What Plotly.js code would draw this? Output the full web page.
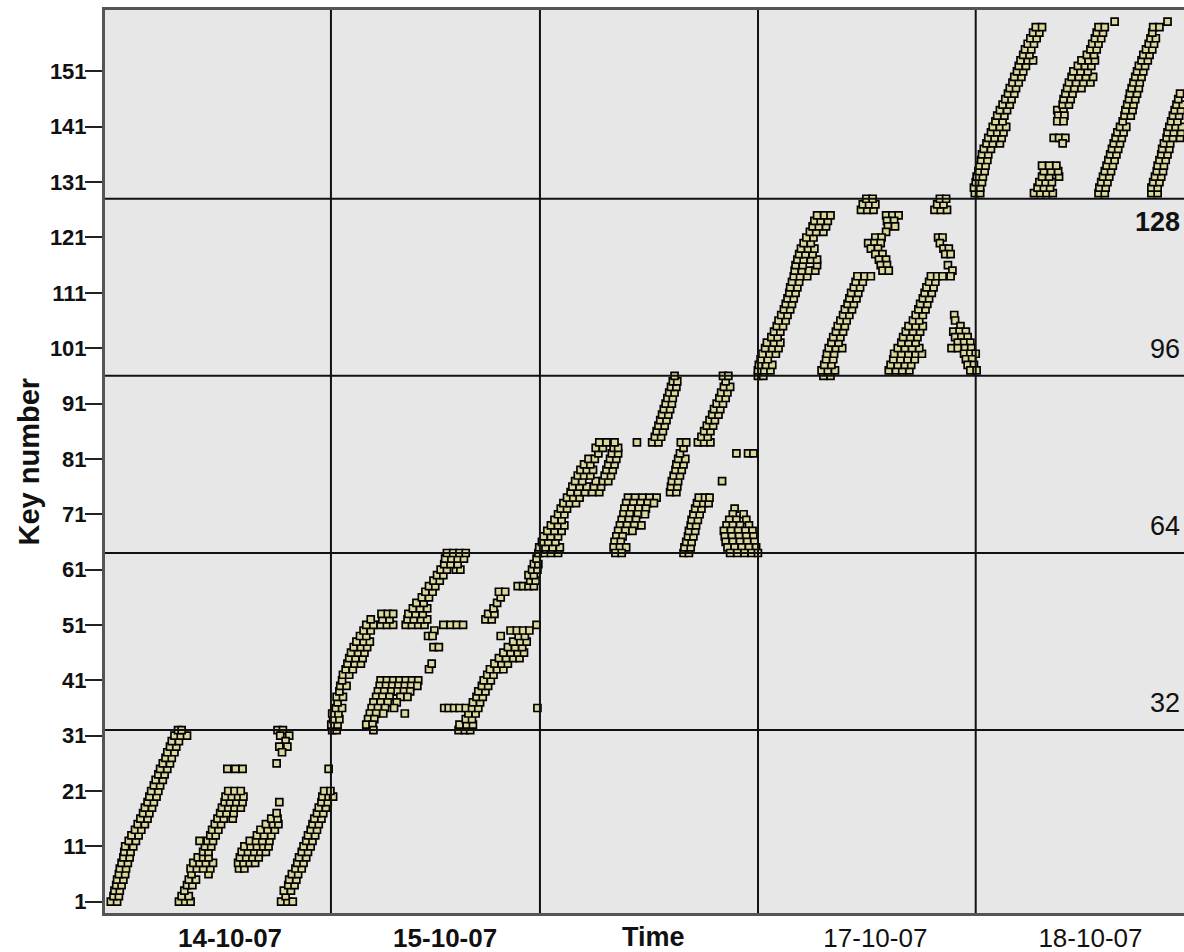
<!DOCTYPE html>
<html>
<head>
<meta charset="utf-8">
<script src="https://cdn.plot.ly/plotly-3.0.1.min.js"></script>
<style>
html,body{margin:0;padding:0;background:#ffffff;overflow:hidden}
#chart{width:1184px;height:952px}
</style>
</head>
<body>
<div id="chart"></div>
<script>
// ---- DATA (time in hours since 14-10-07 00:00, key number) ----
const day14Points = [
[-1.3,1],[-0.6,1],[-1.0,2],[-0.4,2],[-0.9,3],[-0.3,3],[-0.7,4],[-0.1,4],[-0.6,5],[0.1,5],[-0.4,6],[0.3,6],[-0.3,7],[0.4,7],[-0.1,8],[0.6,8],[0.1,9],[0.8,9],[0.2,10],[0.9,10],[0.3,11],[1.2,11],[0.7,12],[1.5,12],[1.0,13],[1.8,13],[1.4,14],[2.1,14],[1.7,15],[2.5,15],[2.0,16],[2.8,16],[2.3,17],[3.0,17],[2.5,18],[3.3,18],[2.8,19],[3.5,19],[3.0,20],[3.8,20],[3.2,21],[4.0,21],[3.5,22],[4.2,22],[3.7,23],[4.5,23],[4.0,24],[4.7,24],[4.2,25],[5.0,25],[4.5,26],[5.3,26],[4.8,27],[5.5,27],[5.0,28],[5.8,28],[5.3,29],[6.0,29],[5.5,30],[6.3,30],[5.8,31],[6.5,31],[7.2,31],[6.2,32],[6.6,32],
[6.3,1],[7.0,1],[7.6,1],[6.6,2],[7.4,2],[6.9,3],[7.2,4],[7.8,4],[7.4,5],[8.2,5],[7.7,6],[9.6,6],[7.6,7],[8.3,7],[9.0,7],[9.8,7],[7.9,8],[8.6,8],[9.3,8],[10.1,8],[8.4,9],[9.0,9],[9.6,9],[9.0,10],[9.6,10],[9.2,11],[9.9,11],[8.6,12],[9.5,12],[10.1,12],[9.8,13],[10.4,13],[10.0,14],[10.7,14],[10.3,15],[11.0,15],[10.6,16],[11.3,16],[12.3,16],[10.9,17],[11.6,17],[12.4,17],[11.1,18],[11.8,18],[12.5,18],[13.2,18],[11.4,19],[12.0,19],[12.7,19],[13.4,19],[11.5,20],[12.2,20],[12.9,20],[13.5,20],[11.8,21],[12.5,21],[13.2,21],[11.7,25],[12.6,25],[13.4,25],
[13.0,7],[13.6,7],[12.9,8],[13.5,8],[14.2,8],[14.8,8],[13.1,9],[13.8,9],[14.5,9],[15.2,9],[13.3,10],[14.0,10],[14.7,10],[15.4,10],[16.0,10],[13.6,11],[14.3,11],[15.0,11],[15.7,11],[16.3,11],[14.2,12],[14.9,12],[15.6,12],[16.4,12],[15.0,13],[15.8,13],[16.6,13],[15.4,14],[16.2,14],[17.0,14],[16.0,15],[16.8,15],[17.4,15],[16.6,16],[17.3,16],[17.2,17],[17.5,19],
[17.3,32],[17.9,32],[18.6,31],[17.6,31],[18.2,30],[17.5,29],[18.4,29],[17.8,28],[17.2,26],
[17.7,1],[18.4,1],[19.0,1],[18.2,2],[18.0,3],[18.8,3],[18.5,4],[19.2,4],[18.6,5],[19.4,5],[18.9,6],[19.6,6],[19.3,7],[20.0,7],[19.5,8],[20.2,8],[19.7,9],[20.5,9],[20.0,10],[20.7,10],[20.2,11],[21.0,11],[20.5,12],[21.2,12],[20.7,13],[21.5,13],[21.0,14],[21.7,14],[21.2,15],[21.9,15],[21.4,16],[22.2,16],[21.7,17],[22.4,17],[21.9,18],[22.7,18],[22.2,19],[22.9,19],[22.3,20],[23.0,20],[23.5,20],[22.5,21],[23.2,21],[23.0,25]
];
const day15Points = [
[23.4,32],[23.9,32],[23.3,33],[24.0,33],[23.5,34],[24.2,34],[23.4,35],[24.1,35],[23.8,36],[24.5,36],[24.0,37],[23.9,38],[24.6,38],[24.2,39],[24.3,40],[25.0,40],[24.5,41],[24.6,42],[25.3,42],[24.9,43],[25.7,43],[25.1,44],[25.9,44],[26.6,44],[25.3,45],[26.0,45],[26.8,45],[25.5,46],[26.3,46],[27.0,46],[25.8,47],[26.6,47],[27.3,47],[26.1,48],[26.9,48],[27.6,48],[26.5,49],[27.2,49],[26.9,50],[27.7,50],[27.2,51],[28.0,51],[27.7,52],
[28.8,51],[29.5,51],[30.2,51],[29.0,52],[29.8,52],[28.9,53],[29.6,53],[30.2,53],
[31.6,51],[32.3,51],[33.0,51],[33.7,51],[31.8,52],[32.5,52],[33.3,52],[34.0,52],[31.9,53],[32.7,53],[33.5,53],[32.4,54],[33.2,54],[34.0,54],[32.8,55],[33.6,55],[33.4,56],[34.2,56],[33.8,57],[34.6,57],[34.2,58],[34.9,58],[34.7,59],[35.4,59],[35.1,60],[35.8,60],[35.5,61],[36.2,61],[37.2,61],[37.7,61],[35.9,62],[36.6,62],[37.4,62],[36.0,63],[36.7,63],[37.4,63],[38.1,63],[36.2,64],[36.9,64],[37.6,64],[38.3,64],
[28.8,41],[29.5,41],[30.2,41],[30.9,41],[31.6,41],[32.3,41],[33.0,41],[28.7,40],[29.4,40],[30.1,40],[30.8,40],[31.5,40],[32.2,40],[32.9,40],[28.5,39],[29.2,39],[30.0,39],[30.7,39],[31.4,39],[32.1,39],[28.3,38],[29.0,38],[29.8,38],[31.0,38],[31.8,38],[28.0,37],[28.8,37],[29.6,37],[30.6,37],[27.8,36],[28.5,36],[29.3,36],[30.3,36],[27.6,35],[28.3,35],[29.1,35],[31.5,35],[27.4,34],[28.1,34],[27.2,33],[27.9,33],[28.0,32],[34.2,43],[34.5,44],
[34.1,49],[34.8,50],[34.6,49],[34.7,47],[35.3,47],[35.8,51],[36.6,51],[37.3,51],[38.0,51],
[40.5,52],[41.2,52],[40.8,53],[41.5,53],[41.4,54],[41.8,55],[42.2,56],[42.0,57],[42.7,57],
[37.5,32],[38.2,32],[38.8,32],[37.6,33],[38.4,33],[39.1,33],[38.3,34],[39.0,34],[38.6,35],[39.4,35],[35.9,36],[36.4,36],[37.0,36],[37.6,36],[38.3,36],[39.0,36],[39.7,36],[39.1,37],[39.9,37],[39.5,38],[40.2,38],[39.7,39],[40.5,39],[40.1,40],[40.8,40],[40.3,41],[41.1,41],[40.7,42],[41.4,42],[41.0,43],[41.8,43],[42.5,43],[41.5,44],[42.3,44],[43.0,44],[42.0,45],[42.8,45],[43.6,45],[44.3,45],[42.5,46],[43.3,46],[44.1,46],[44.8,46],[43.0,47],[43.8,47],[44.6,47],[43.6,48],[44.4,48],[45.1,48],[42.2,49],[44.2,49],[44.9,49],[43.3,50],[44.0,50],[44.7,50],[45.4,50],
[46.2,51],[46.3,36],
[44.1,58],[44.7,58],[45.3,58],[45.9,58],[45.5,59],[46.1,59],[45.3,60],[45.9,60],[45.7,61],[46.3,61],[45.9,62],[46.4,62],[46.2,63],[46.5,64]
];
const day16Points = [
[46.4,64],[47.1,64],[47.8,64],[48.6,64],[46.5,65],[47.2,65],[48.0,65],[48.8,65],[46.8,66],[47.5,66],[48.3,66],[47.0,67],[47.8,67],[48.6,67],[47.4,68],[48.2,68],[49.0,68],[47.8,69],[48.6,69],[49.3,69],[48.2,70],[49.0,70],[48.6,71],[49.3,71],[48.9,72],[49.6,72],[49.2,73],[49.9,73],[50.6,73],[49.6,74],[50.3,74],[51.0,74],
[50.0,75],[50.8,75],[51.6,75],[52.4,75],[53.2,75],[50.2,76],[51.0,76],[51.8,76],[52.6,76],[53.4,76],[50.5,77],[51.3,77],[52.8,77],[53.6,77],[54.2,77],[50.8,78],[51.5,78],[52.2,78],[53.8,78],[54.5,78],[51.1,79],[51.8,79],[52.5,79],[54.0,79],[54.7,79],[51.5,80],[52.2,80],[54.2,80],[54.9,80],[52.0,81],[52.7,81],[54.4,81],[55.1,81],[53.1,82],[54.6,82],[55.3,82],[52.8,83],[53.6,83],[54.8,83],[55.3,83],[53.2,84],[54.0,84],[54.9,84],
[57.4,84],[59.1,84],[59.8,84],[59.4,85],[60.1,85],[59.6,86],[60.3,86],[59.8,87],[60.5,87],[60.0,88],[60.7,88],[60.2,89],[60.9,89],[60.4,90],[61.1,90],[60.6,91],[61.3,91],[60.8,92],[61.4,92],[61.0,93],[61.6,93],[61.2,94],[61.8,94],[61.4,95],[61.9,95],[61.6,96],
[64.2,84],[64.9,84],[65.6,84],[64.6,85],[65.3,85],[64.9,86],[65.6,86],[65.2,87],[65.9,87],[65.5,88],[66.1,88],[65.8,89],[66.5,89],[66.0,90],[66.7,90],[66.3,91],[67.0,91],[66.6,92],[67.3,92],[66.8,93],[67.5,93],[67.1,94],[67.8,94],[67.3,95],[67.0,96],[67.6,96],
[56.4,74],[57.2,74],[58.0,74],[58.8,74],[59.6,74],[56.2,73],[57.0,73],[57.8,73],[58.6,73],[59.3,73],[56.0,72],[56.8,72],[57.6,72],[58.4,72],[55.9,71],[56.6,71],[57.5,71],[58.3,71],[55.7,70],[56.5,70],[57.3,70],[55.5,69],[56.3,69],[57.1,69],[57.9,69],[55.3,68],[56.1,68],[56.9,68],[55.1,67],[55.8,67],[54.9,66],[55.6,66],[54.8,65],[55.5,65],[56.2,65],[55.0,64],[55.7,64],
[61.1,75],[61.8,75],[61.2,76],[61.9,76],[61.3,77],[62.0,77],[61.5,78],[62.2,78],[61.7,79],[62.4,79],[61.8,80],[62.6,80],[62.0,81],[62.8,81],[62.2,82],[62.6,83],[62.3,84],[62.9,84],
[62.6,64],[63.2,64],[62.7,65],[63.4,65],[62.9,66],[63.5,66],[63.1,67],[63.7,67],[63.2,68],[63.9,68],[63.4,69],[64.0,69],[63.5,70],[64.2,70],[63.7,71],[64.4,71],[63.9,72],[64.6,72],[64.1,73],[64.8,73],[65.4,73],[64.3,74],[65.0,74],[65.5,74],
[66.9,77],[68.5,82],[69.8,82],[70.4,82],
[68.3,72],[68.1,71],[69.3,71],[67.7,70],[68.5,70],[69.6,70],[67.4,69],[68.1,69],[68.9,69],[69.9,69],[67.1,68],[67.9,68],[68.7,68],[69.5,68],[70.3,68],[67.2,67],[68.0,67],[68.8,67],[69.6,67],[70.4,67],[67.3,66],[68.1,66],[68.9,66],[69.7,66],[70.5,66],[67.5,65],[68.3,65],[69.1,65],[69.9,65],[70.7,65],[67.8,64],[68.6,64],[69.4,64],[70.2,64],[70.9,64]
];
const day17Points = [
[70.9,96],[71.5,96],[70.9,97],[71.6,97],[72.3,97],[71.0,98],[71.8,98],[72.5,98],[71.2,99],[72.0,99],[71.4,100],[72.2,100],[72.9,100],[71.7,101],[72.5,101],[73.2,101],[71.9,102],[72.7,102],[73.4,102],[72.4,103],[73.1,103],[72.7,104],[73.4,104],[73.0,105],[73.7,105],[73.2,106],[74.0,106],[73.5,107],[74.2,107],[73.8,108],[74.5,108],[74.0,109],[74.7,109],[74.2,110],[74.9,110],[74.4,111],[75.1,111],[74.5,112],[75.3,112],[74.7,113],[75.5,113],[74.9,114],[75.6,114],[76.4,114],[75.0,115],[75.8,115],[76.6,115],[77.3,115],[75.1,116],[75.9,116],[77.5,116],[75.3,117],[76.0,117],[76.8,117],[77.5,117],[75.5,118],[76.2,118],[77.0,118],[75.7,119],[76.5,119],[77.2,119],[76.0,120],[76.8,120],[76.3,121],[77.1,121],[76.7,122],[77.4,122],[78.2,122],[77.0,123],[77.7,123],[78.5,123],[77.2,124],[77.9,124],[78.7,124],[77.5,125],[78.3,125],[79.0,125],
[82.4,126],[83.1,126],[83.8,126],[82.6,127],[83.3,127],[84.0,127],[83.0,128],[83.7,128],
[85.2,125],[85.9,125],[86.6,125],[85.3,124],[86.1,124],[85.4,123],[86.2,123],[85.2,122],[84.0,121],[84.7,121],[83.2,120],[83.9,120],[84.6,120],[83.5,119],[84.3,119],[84.0,118],[84.8,118],[84.4,117],[85.2,117],[84.6,116],[85.3,116],[84.8,115],[85.5,115],
[78.2,96],[79.0,96],[78.0,97],[78.7,97],[79.5,97],[78.3,98],[79.1,98],[78.5,99],[79.3,99],[78.6,100],[79.4,100],[78.8,101],[79.6,101],[80.3,101],[79.1,102],[79.9,102],[79.3,103],[80.1,103],[79.6,104],[80.4,104],[79.8,105],[80.6,105],[80.1,106],[80.8,106],[80.4,107],[81.1,107],[80.6,108],[81.4,108],[80.9,109],[81.6,109],[81.1,110],[81.9,110],[81.3,111],[82.1,111],[81.6,112],[82.3,112],[81.8,113],[82.6,113],[82.0,114],[82.8,114],[83.5,114],
[85.5,97],[86.3,97],[87.0,97],[87.8,97],[85.7,98],[86.5,98],[87.3,98],[88.0,98],[86.0,99],[86.8,99],[87.6,99],[88.4,99],[86.1,100],[86.9,100],[87.7,100],[88.5,100],[89.2,100],[86.5,101],[87.3,101],[88.1,101],[88.9,101],[86.9,102],[87.7,102],[88.5,102],[87.1,103],[87.9,103],[88.7,103],[87.4,104],[88.2,104],[89.0,104],[87.7,105],[88.5,105],[89.3,105],[88.2,106],[88.9,106],[88.5,107],[89.3,107],[88.8,108],[89.6,108],[89.0,109],[89.8,109],[89.3,110],[90.0,110],[89.5,111],[90.3,111],[89.7,112],[90.5,112],[90.0,113],[90.7,113],[90.2,114],[90.9,114],[91.5,114],
[90.6,126],[91.3,126],[92.0,126],[90.9,127],[91.6,127],[91.2,128],[91.9,128],
[91.0,121],[91.5,121],[91.2,120],[91.6,119],[92.2,119],[91.8,118],[92.4,118],[92.1,116],[92.6,115],[92.4,114],
[92.8,107],[92.9,106],[93.5,105],[92.7,104],[93.4,104],[94.1,104],[92.9,103],[93.6,103],[94.3,103],[93.2,102],[93.9,102],[94.6,102],[92.5,101],[93.2,101],[94.0,101],[94.7,101],[93.9,100],[94.6,100],[95.2,100],[94.1,99],[94.8,99],[94.3,98],[95.0,98],[94.6,97],[95.3,97]
];
const day18Points = [
[95.1,129],[95.7,129],[95.0,130],[95.7,130],[95.2,131],[95.9,131],[95.3,132],[96.0,132],[95.5,133],[96.2,133],[95.6,134],[96.3,134],[95.8,135],[96.5,135],[95.9,136],[96.6,136],[96.1,137],[96.9,137],[96.4,138],[97.1,138],[97.9,138],[96.6,139],[97.3,139],[98.1,139],[96.9,140],[97.6,140],[98.3,140],[97.1,141],[97.9,141],[98.6,141],[97.4,142],[98.2,142],[97.6,143],[98.4,143],[97.9,144],[98.7,144],[98.2,145],[99.0,145],[98.5,146],[99.2,146],[98.8,147],[99.5,147],[99.0,148],[99.7,148],[99.3,149],[100.0,149],[99.5,150],[100.3,150],[99.8,151],[100.5,151],[100.0,152],[100.8,152],[100.2,153],[101.0,153],[101.6,153],[100.5,154],[101.2,154],[100.7,155],[101.4,155],[101.0,156],[101.7,156],[101.3,157],[102.0,157],[101.6,158],[102.3,158],[101.9,159],[102.6,159],
[101.7,129],[102.4,129],[103.1,129],[103.8,129],[102.1,130],[102.8,130],[103.5,130],[102.3,131],[103.0,131],[103.7,131],[102.6,132],[103.4,132],[104.5,132],[102.8,133],[103.6,133],[104.4,133],[102.6,134],[103.4,134],[104.2,134],
[104.3,144],[105.0,144],[104.4,143],[105.1,143],[104.3,142],[105.0,142],[103.9,139],[104.5,139],[105.2,139],[104.9,138],
[104.9,145],[105.6,145],[105.0,146],[105.8,146],[105.2,147],[106.0,147],[105.4,148],[106.2,148],[107.0,148],[105.6,149],[106.4,149],[107.2,149],[108.0,149],[105.9,150],[106.7,150],[107.5,150],[108.3,150],[106.1,151],[106.9,151],[107.7,151],[106.6,152],[107.4,152],[108.1,152],[107.0,153],[107.8,153],[108.5,153],[107.6,154],[108.4,154],[108.0,155],[108.7,155],[108.2,156],[108.9,156],[108.5,157],[109.2,157],[108.7,158],[109.4,158],[108.9,159],[109.6,159],[110.7,160],
[108.9,129],[109.6,129],[109.0,130],[109.7,130],[109.2,131],[109.9,131],[109.4,132],[110.1,132],[109.6,133],[110.3,133],[109.8,134],[110.5,134],[110.0,135],[110.7,135],[110.2,136],[110.9,136],[110.4,137],[111.1,137],[110.6,138],[111.3,138],[110.8,139],[111.5,139],[111.0,140],[111.7,140],[111.3,141],[112.0,141],[111.6,142],
[111.8,143],[112.5,143],[111.9,144],[112.7,144],[112.1,145],[112.8,145],[112.3,146],[113.0,146],[112.4,147],[113.2,147],[112.6,148],[113.4,148],[112.8,149],[113.5,149],[113.0,150],[113.7,150],[113.2,151],[113.9,151],[113.4,152],[114.1,152],[113.7,153],[114.4,153],[113.9,154],[114.6,154],[114.2,155],[114.9,155],[114.5,156],[115.1,156],[114.7,157],[115.3,157],[114.9,158],[115.0,159],[115.7,159],[116.6,160],
[114.8,129],[115.5,129],[114.8,130],[115.5,130],[115.0,131],[115.7,131],[115.2,132],[115.9,132],[115.4,133],[116.1,133],[115.5,134],[116.2,134],[115.7,135],[116.4,135],[115.9,136],[116.6,136],[116.0,137],[116.8,137],[116.2,138],[116.9,138],
[116.5,139],[117.2,139],[118.0,139],[116.6,140],[117.3,140],[118.1,140],[116.8,141],[117.5,141],[118.2,141],[117.0,142],[117.7,142],[117.2,143],[117.9,143],[117.4,144],[118.1,144],[117.6,145],[118.3,145],[117.8,146],[118.0,147]
];

const xTickValues = [12, 36, 84, 108];
const xTickLabels = ['14-10-07', '15-10-07', '17-10-07', '18-10-07'];
const yTickValues = [1, 11, 21, 31, 41, 51, 61, 71, 81, 91, 101, 111, 121, 131, 141, 151];
const groupBoundaryKeys = [32, 64, 96, 128];
const groupSwitchTimes = [23.26, 46.58, 70.91, 95.2];

// ---- CHART ----
const FONT = 'Liberation Sans, Arial, Helvetica, sans-serif';
const markerStyle = {symbol: 'square', size: 7, color: '#dcd89c', line: {color: '#000000', width: 1.7}};
const days = [day14Points, day15Points, day16Points, day17Points, day18Points];
const traces = days.map(pts => ({
  type: 'scatter', mode: 'markers',
  x: pts.map(p => p[0]), y: pts.map(p => p[1]),
  marker: markerStyle, hoverinfo: 'skip', showlegend: false, cliponaxis: true
}));

const shapes = [];
groupBoundaryKeys.forEach(k => shapes.push({type: 'line', xref: 'paper', x0: 0, x1: 1, yref: 'y', y0: k, y1: k, line: {color: '#111111', width: 2}, layer: 'above'}));
groupSwitchTimes.forEach(t => shapes.push({type: 'line', xref: 'x', x0: t, x1: t, yref: 'paper', y0: 0, y1: 1, line: {color: '#111111', width: 2}, layer: 'above'}));

const annotations = [];
groupBoundaryKeys.forEach(k => {
  const top = (k === 128);
  annotations.push({
    xref: 'paper', x: 1, xanchor: 'right', xshift: -2,
    yref: 'y', y: k, yanchor: top ? 'top' : 'bottom', yshift: top ? -6 : 10,
    text: top ? '<b>' + k + '</b>' : String(k), showarrow: false,
    font: {family: FONT, size: 27, color: '#111111'}
  });
});
annotations.push({
  xref: 'paper', x: 0, xshift: -77, xanchor: 'center',
  yref: 'paper', y: 0.5, yanchor: 'middle', textangle: -90,
  text: '<b>Key number</b>', showarrow: false,
  font: {family: FONT, size: 29, color: '#111111'}
});
annotations.push({
  xref: 'paper', x: 0.5088, xanchor: 'center',
  yref: 'paper', y: 0, yanchor: 'top', yshift: -7,
  text: '<b>Time</b>', showarrow: false,
  font: {family: FONT, size: 27, color: '#111111'}
});

const layout = {
  width: 1184, height: 952,
  margin: {l: 105, r: 0, t: 10, b: 39, pad: 0},
  paper_bgcolor: '#ffffff', plot_bgcolor: '#e6e7e6',
  showlegend: false, hovermode: false,
  xaxis: {
    range: [-1.95, 118.44], showgrid: false, zeroline: false,
    showline: true, linecolor: '#555555', linewidth: 3, mirror: true,
    ticks: '', tickvals: xTickValues,
    ticktext: xTickLabels.map((t, i) => i < 2 ? '<b>' + t + '</b>' : t),
    tickfont: {family: FONT, size: 26, color: '#111111'}
  },
  yaxis: {
    range: [-1.04, 162.1], showgrid: false, zeroline: false,
    showline: true, linecolor: '#555555', linewidth: 3,
    ticks: 'outside', ticklen: 17, tickwidth: 2, tickcolor: '#222222',
    ticklabelstandoff: -6,
    tickvals: yTickValues, ticktext: yTickValues.map(v => String(v)),
    tickfont: {family: FONT, size: 22, color: '#111111', weight: 'bold'}
  },
  shapes: shapes,
  annotations: annotations
};

Plotly.newPlot('chart', traces, layout, {displayModeBar: false, staticPlot: true});
</script>
</body>
</html>
